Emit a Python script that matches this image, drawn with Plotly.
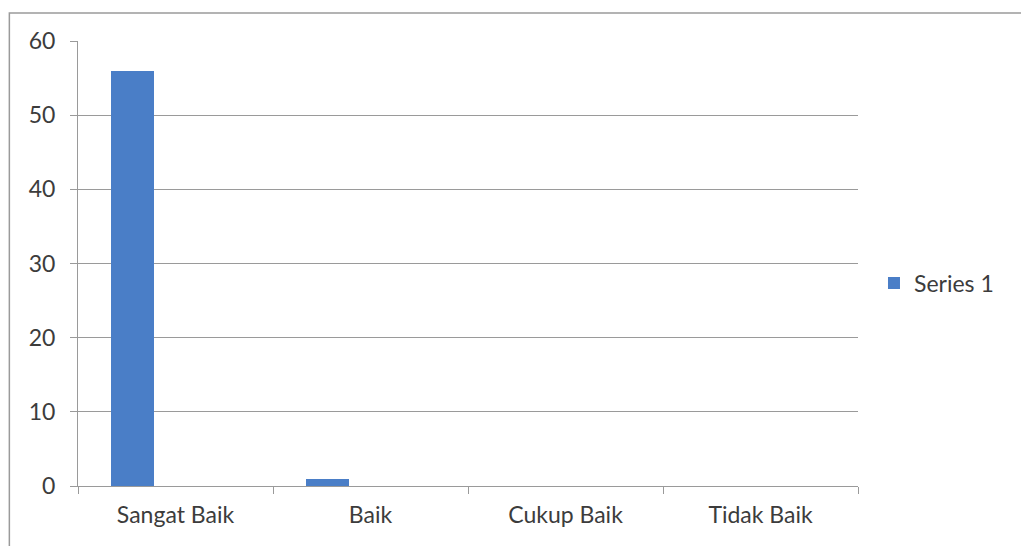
import plotly.graph_objects as go

categories = ["Sangat Baik", "Baik", "Cukup Baik", "Tidak Baik"]
series1 = [56, 1, 0, 0]
y_ticks = [0, 10, 20, 30, 40, 50, 60]

FONT = "Lato"
TXT = "#3c3c3c"
GRID = "#9a9a9a"
FS = 23

fig = go.Figure()
fig.add_trace(go.Bar(
    x=categories, y=series1, name="Series 1",
    marker=dict(color="#4A7EC7", line=dict(width=0)),
    width=0.222, offset=-0.333,
    showlegend=True,
))

fig.update_layout(
    width=1021, height=546,
    margin=dict(l=78, r=163, t=41, b=60),
    paper_bgcolor="white", plot_bgcolor="white",
    font=dict(family=FONT, size=FS, color=TXT),
    showlegend=True,
    legend=dict(x=1.0205, y=0.456, xanchor="left", yanchor="middle",
                font=dict(family=FONT, size=FS, color=TXT),
                itemwidth=30, bgcolor="rgba(0,0,0,0)"),
    bargap=0,
    xaxis=dict(
        type="category", range=[-0.5, 3.5],
        showline=True, linecolor=GRID, linewidth=1,
        ticks="outside", tickson="boundaries", ticklen=7, tickcolor=GRID,
        showgrid=False, tickfont=dict(family=FONT, size=FS, color=TXT),
        ticklabelstandoff=8,
        fixedrange=True,
    ),
    yaxis=dict(
        range=[0, 60], tickvals=y_ticks,
        showline=True, linecolor=GRID, linewidth=1,
        ticks="outside", ticklen=7, tickcolor=GRID,
        showgrid=True, gridcolor=GRID, gridwidth=1,
        zeroline=False,
        tickfont=dict(family=FONT, size=FS, color=TXT),
        ticklabelstandoff=10,
    ),
    shapes=[dict(type="rect", xref="paper", yref="paper",
                 x0=-0.088, x1=1.25, y0=-0.2, y1=1.063,
                 line=dict(color="#9a9a9a", width=1.5))],
)

fig.write_html("out.html")
